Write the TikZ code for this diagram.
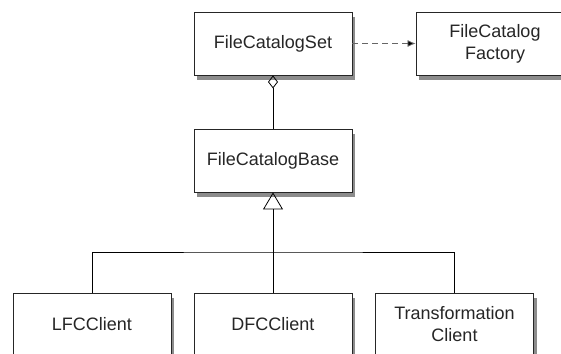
\documentclass[tikz,border=0pt]{standalone}
\usepackage{fontspec}
\setmainfont{Liberation Sans}
\usetikzlibrary{arrows.meta,shadows}
\begin{document}
\begin{tikzpicture}[x=1pt,y=1pt,
  cls/.style={draw=black!85, line width=0.9pt, fill=white, minimum width=158pt, minimum height=63pt,
    align=center, inner sep=2pt, font=\fontsize{18}{22}\selectfont, text=black!85,
    drop shadow={shadow xshift=3pt, shadow yshift=-5pt, fill=black!45, opacity=1}},
  conn/.style={line width=0.8pt, draw=black}]
\useasboundingbox (0,0) rectangle (561,-353);
\clip (0,0) rectangle (561,-353);
\node[cls] (set) at (273,-43.5) {FileCatalogSet};
\node[cls] (fac) at (495,-43.5) {FileCatalog\\Factory};
\node[cls] (base) at (273,-160.5) {FileCatalogBase};
\node[cls] (lfc) at (92,-324.5) {LFCClient};
\node[cls] (dfc) at (273,-324.5) {DFCClient};
\node[cls] (tra) at (454.5,-324.5) {Transformation\\Client};
\coordinate (j) at (273,-252);
\draw[conn, draw=black!60, dashed, dash pattern=on 6pt off 4pt, -{Latex[length=8pt,width=7pt,fill=black]}] (set.east) -- (fac.west);
\draw[conn, {Diamond[open,length=13pt,width=10pt,line width=0.8pt]}-] (set.south) -- (base.north);
\draw[conn, -{Triangle[open,length=17pt,width=20pt,line width=0.8pt]}] (dfc.north) -- (base.south);
\draw[conn] (lfc.north) |- (j) -| (tra.north);
\end{tikzpicture}
\end{document}
